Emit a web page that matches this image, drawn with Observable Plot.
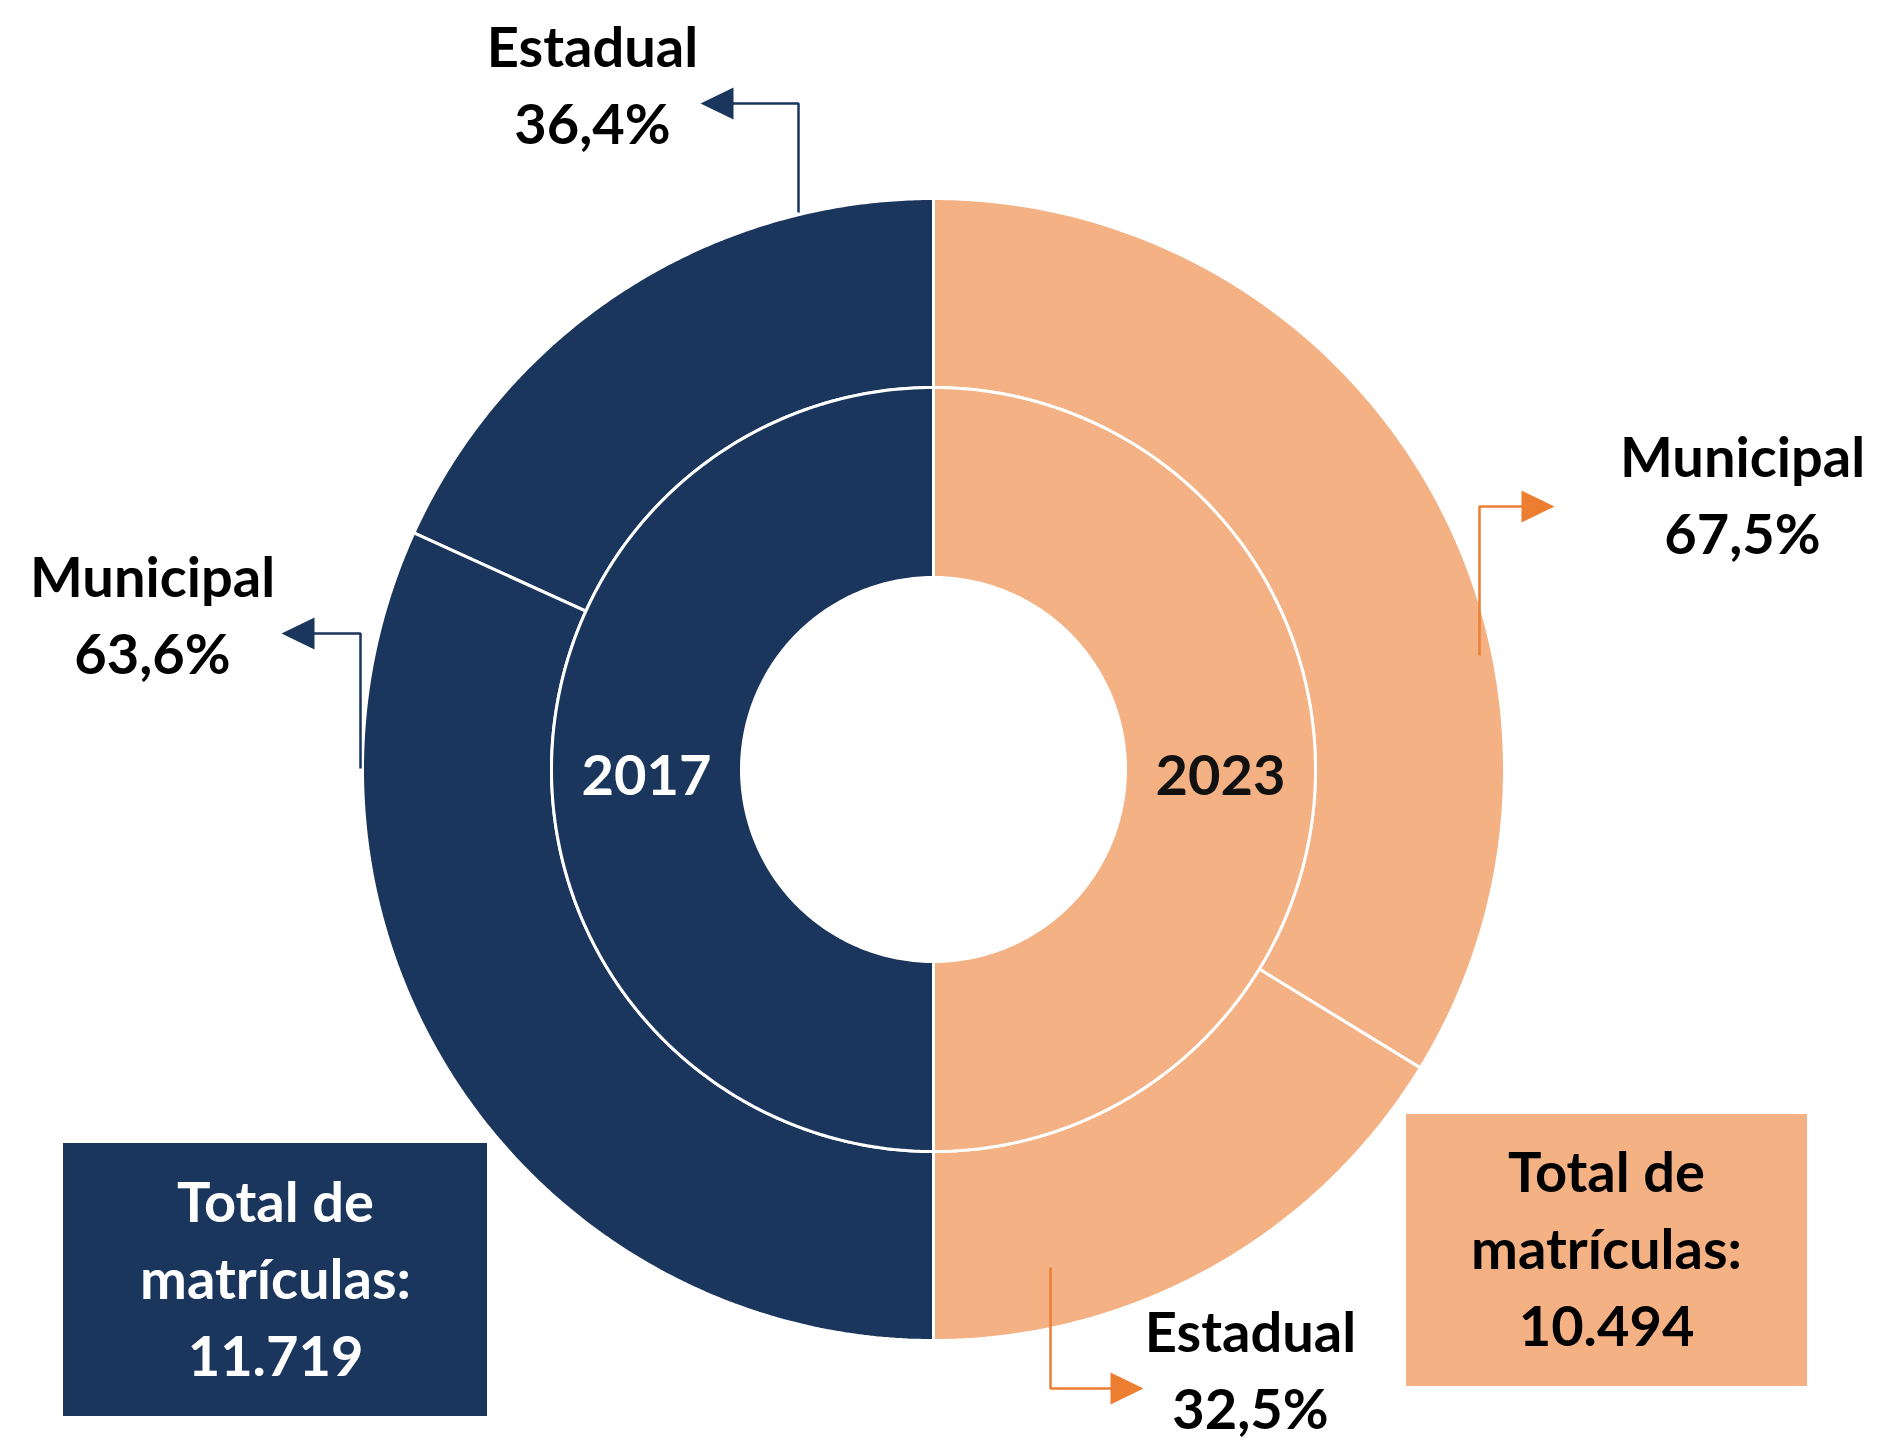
<!DOCTYPE html>
<html><head><meta charset="utf-8">
<script src="https://cdn.jsdelivr.net/npm/d3@7"></script>
<script src="https://cdn.jsdelivr.net/npm/@observablehq/plot@0.6"></script>
<style>html,body{margin:0;padding:0;background:#fff;} #chart svg{display:block;}</style>
</head><body><div id="chart"></div>
<script>
// ---- data ----
const years = ["2017", "2023"];
const networks = ["Estadual", "Municipal"];
const estadualPct = [36.4, 32.5];
const municipalPct = [63.6, 67.5];
const totalMatriculas = [11719, 10494];

// ---- layout ----
const W = 1880, H = 1440, CX = 933, CY = 769, R = 571;
const ux = px => (px - CX) / R, uy = py => (CY - py) / R;
const NAVY = "#1b365d", SALMON = "#f4b183", ORANGE = "#ed7d31";
const R_HOLE = 192 / R, R_MID = 382 / R, R_OUT = 1;
const FONT = 56, LH = 77 / FONT;
const br = d3.formatLocale({decimal: ",", thousands: ".", grouping: [3], currency: ["R$", ""]});
const fmtInt = br.format(",");
const fmtPct = v => br.format(".1f")(v) + "%";

// polygon of an annular sector (angles in degrees, clockwise from 12 o'clock)
function sector(id, year, a0, a1, r0, r1) {
  const pts = [], n = 180;
  for (let i = 0; i <= n; i++) {
    const a = (a0 + (a1 - a0) * i / n) * Math.PI / 180;
    pts.push({id, year, x: r1 * Math.sin(a), y: r1 * Math.cos(a)});
  }
  for (let i = n; i >= 0; i--) {
    const a = (a0 + (a1 - a0) * i / n) * Math.PI / 180;
    pts.push({id, year, x: r0 * Math.sin(a), y: r0 * Math.cos(a)});
  }
  return pts;
}

// outer ring: 2017 fills the left half (from top, counter-clockwise: Estadual, Municipal)
//             2023 fills the right half (from top, clockwise: Municipal, Estadual)
const ringSpec = [
  {year: years[0], start: 360, dir: -1, order: [[networks[0], estadualPct[0]], [networks[1], municipalPct[0]]]},
  {year: years[1], start: 0, dir: 1, order: [[networks[1], municipalPct[1]], [networks[0], estadualPct[1]]]}
];
const segPts = [];
for (const s of ringSpec) {
  let a = s.start;
  for (const [net, pct] of s.order) {
    const span = pct / 100 * 180 * s.dir;
    segPts.push(...sector(s.year + net, s.year, Math.min(a, a + span), Math.max(a, a + span), R_MID, R_OUT));
    a += span;
  }
  // inner ring: whole half for the year
  const a0 = s.dir < 0 ? 180 : 0;
  segPts.push(...sector(s.year + "inner", s.year, a0, a0 + 180, R_HOLE, R_MID));
}

// annotations (pixel layout -> chart units)
const anns = [
  {year: years[0], text: networks[0] + "\n" + fmtPct(estadualPct[0]), start: [798, 212], elbowY: 103, tipX: 700, lx: 592, ly: 143},
  {year: years[0], text: networks[1] + "\n" + fmtPct(municipalPct[0]), start: [360, 768], elbowY: 633, tipX: 281, lx: 152, ly: 673},
  {year: years[1], text: networks[1] + "\n" + fmtPct(municipalPct[1]), start: [1479, 655], elbowY: 506, tipX: 1554, lx: 1742, ly: 553},
  {year: years[1], text: networks[0] + "\n" + fmtPct(estadualPct[1]), start: [1050, 1267], elbowY: 1388, tipX: 1143, lx: 1250, ly: 1428}
];
const connPts = [], headPts = [];
anns.forEach((a, i) => {
  const dir = Math.sign(a.tipX - a.start[0]);
  const baseX = a.tipX - dir * 33;
  connPts.push({id: i, year: a.year, x: ux(a.start[0]), y: uy(a.start[1])},
               {id: i, year: a.year, x: ux(a.start[0]), y: uy(a.elbowY)},
               {id: i, year: a.year, x: ux(baseX + dir * 2), y: uy(a.elbowY)});
  headPts.push({id: i, year: a.year, x: ux(a.tipX), y: uy(a.elbowY)},
               {id: i, year: a.year, x: ux(baseX), y: uy(a.elbowY - 16)},
               {id: i, year: a.year, x: ux(baseX), y: uy(a.elbowY + 16)});
});
const labelData = anns.map(a => ({text: a.text, x: ux(a.lx), y: uy(a.ly)}));

const yearLabels = [
  {text: years[0], x: -(R_HOLE + R_MID) / 2, y: uy(794), fill: "#ffffff"},
  {text: years[1], x: (R_HOLE + R_MID) / 2, y: uy(794), fill: "#111111"}
];

const boxes = [
  {year: years[0], x1: ux(63), x2: ux(487), y1: uy(1143), y2: uy(1416), fill: NAVY, tx: ux(275), ty: uy(1375), color: "#ffffff",
   text: "Total de\nmatrículas:\n" + fmtInt(totalMatriculas[0])},
  {year: years[1], x1: ux(1406), x2: ux(1807), y1: uy(1114), y2: uy(1386), fill: SALMON, tx: ux(1606), ty: uy(1345), color: "#000000",
   text: "Total de\nmatrículas:\n" + fmtInt(totalMatriculas[1])}
];

const chart = Plot.plot({
  width: W, height: H, margin: 0,
  style: {fontFamily: "Lato, 'Open Sans', sans-serif", background: "#fff"},
  x: {domain: [ux(0), ux(W)], axis: null},
  y: {domain: [uy(H), uy(0)], axis: null},
  color: {domain: years, range: [NAVY, SALMON]},
  marks: [
    Plot.line(segPts, {x: "x", y: "y", z: "id", fill: "year", stroke: "white", strokeWidth: 3, curve: "linear-closed", strokeLinejoin: "miter"}),
    Plot.line(connPts.filter(d => d.year === years[0]), {x: "x", y: "y", z: "id", stroke: NAVY, strokeWidth: 2.5, strokeLinecap: "butt", strokeLinejoin: "miter"}),
    Plot.line(connPts.filter(d => d.year === years[1]), {x: "x", y: "y", z: "id", stroke: ORANGE, strokeWidth: 2.5, strokeLinecap: "butt", strokeLinejoin: "miter"}),
    Plot.line(headPts.filter(d => d.year === years[0]), {x: "x", y: "y", z: "id", fill: NAVY, stroke: "none", curve: "linear-closed"}),
    Plot.line(headPts.filter(d => d.year === years[1]), {x: "x", y: "y", z: "id", fill: ORANGE, stroke: "none", curve: "linear-closed"}),
    Plot.text(labelData, {x: "x", y: "y", text: "text", fontSize: FONT, fontWeight: "bold", fill: "#000", lineAnchor: "bottom", lineHeight: LH, textAnchor: "middle"}),
    Plot.text(yearLabels, {x: "x", y: "y", text: "text", fontSize: FONT, fontWeight: "bold", fill: d => d.fill, lineAnchor: "bottom", textAnchor: "middle"}),
    Plot.rect(boxes, {x1: "x1", x2: "x2", y1: "y1", y2: "y2", fill: d => d.fill}),
    Plot.text(boxes, {x: "tx", y: "ty", text: "text", fontSize: FONT, fontWeight: "bold", fill: d => d.color, lineAnchor: "bottom", lineHeight: LH, textAnchor: "middle"})
  ]
});
document.getElementById("chart").appendChild(chart);
</script>
</body></html>
